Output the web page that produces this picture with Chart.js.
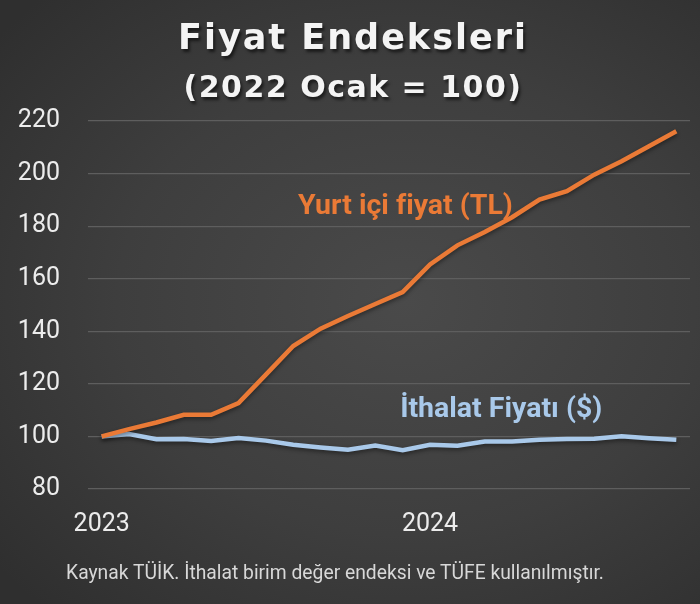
<!DOCTYPE html>
<html lang="tr">
<head>
<meta charset="utf-8">
<title>Fiyat Endeksleri</title>
<script src="https://cdn.jsdelivr.net/npm/chart.js@4.4.1/dist/chart.umd.min.js"></script>
<style>
  html, body { margin: 0; padding: 0; }
  body {
    width: 700px; height: 604px; overflow: hidden; position: relative;
    background: radial-gradient(ellipse 75% 70% at 58% 50%, #4a4a4a 0%, #3e3e3e 55%, #2f2f2f 100%);
    font-family: Roboto, "Liberation Sans", sans-serif;
  }
  #chartBox { position: absolute; left: 0; top: 0; width: 700px; height: 604px; }
  .title {
    position: absolute; left: 0; width: 700px; text-align: center;
    color: #f4f4f4; font-family: "DejaVu Sans", sans-serif; font-weight: bold;
    text-shadow: 2px 3px 3px rgba(0,0,0,0.55);
    padding-left: 6px; box-sizing: border-box;
  }
  #t1 { top: 17px; font-size: 35px; letter-spacing: 2px; }
  #t2 { top: 69px; font-size: 30px; letter-spacing: 1.5px; }
  #source {
    position: absolute; left: 0; width: 700px; top: 561px; text-align: center;
    color: #d8d8d8; font-size: 19.3px; padding-right: 30px; box-sizing: border-box;
  }
</style>
</head>
<body>
<div id="chartBox"><canvas id="chartCanvas"></canvas></div>
<div class="title" id="t1">Fiyat Endeksleri</div>
<div class="title" id="t2">(2022 Ocak = 100)</div>
<div id="source">Kaynak TÜİK. İthalat birim değer endeksi ve TÜFE kullanılmıştır.</div>

<script>
// ------- Data -------
const months = [
  "2023-01","2023-02","2023-03","2023-04","2023-05","2023-06",
  "2023-07","2023-08","2023-09","2023-10","2023-11","2023-12",
  "2024-01","2024-02","2024-03","2024-04","2024-05","2024-06",
  "2024-07","2024-08","2024-09","2024-10"
];
const yearTicks = { "2023-01": "2023", "2024-01": "2024" };

const domesticPrice = [
  100, 102.8, 105.3, 108.2, 108.2, 112.7,
  123.5, 134.4, 141, 145.8, 150.4, 154.9,
  165.4, 172.7, 177.8, 183.4, 190.1, 193.3,
  199.6, 204.7, 210.4, 216.1
];
const importPrice = [
  100, 100.9, 98.9, 99, 98.3, 99.4,
  98.4, 96.8, 95.8, 94.9, 96.5, 94.8,
  96.8, 96.5, 98.1, 98.1, 98.7, 99,
  99.1, 100.1, 99.3, 98.7
];

// label positions (data coords: month index, index value)
const domesticLabel = { text: "Yurt içi fiyat (TL)", x: 11.1, y: 187.5, color: "#ea7a36" };
const importLabel = { text: "İthalat Fiyatı ($)", x: 14.6, y: 110.2, color: "#a9c9ea" };

// ------- Plugins -------
const lineLabels = {
  id: "lineLabels",
  afterDatasetsDraw(chart) {
    const { ctx, scales } = chart;
    ctx.save();
    ctx.font = "bold 28.5px Roboto, sans-serif";
    ctx.textAlign = "center";
    ctx.textBaseline = "middle";
    [domesticLabel, importLabel].forEach((l) => {
      ctx.fillStyle = l.color;
      ctx.fillText(l.text, scales.x.getPixelForValue(l.x), scales.y.getPixelForValue(l.y));
    });
    ctx.restore();
  },
};

const lineShadow = {
  id: "lineShadow",
  beforeDatasetsDraw(chart) {
    const ctx = chart.ctx;
    ctx.save();
    ctx.shadowColor = "rgba(0,0,0,0.45)";
    ctx.shadowBlur = 4;
    ctx.shadowOffsetY = 2;
  },
  afterDatasetsDraw(chart) {
    chart.ctx.restore();
  },
};

// ------- Chart -------
const ctx = document.getElementById("chartCanvas").getContext("2d");
new Chart(ctx, {
  type: "line",
  data: {
    labels: months,
    datasets: [
      {
        label: "Yurt içi fiyat (TL)",
        data: domesticPrice,
        borderColor: "#ea7a36",
        borderWidth: 4.5,
        pointRadius: 0,
        tension: 0,
      },
      {
        label: "İthalat Fiyatı ($)",
        data: importPrice,
        borderColor: "#a9c9ea",
        borderWidth: 4.5,
        pointRadius: 0,
        tension: 0,
      },
    ],
  },
  options: {
    responsive: true,
    maintainAspectRatio: false,
    animation: false,
    layout: { padding: { top: 121, right: 10, bottom: 60, left: 0 } },
    plugins: {
      legend: { display: false },
      title: { display: false },
      tooltip: { enabled: false },
    },
    scales: {
      x: {
        offset: true,
        grid: { display: false, drawTicks: false },
        border: { display: false },
        ticks: {
          autoSkip: false,
          maxRotation: 0,
          padding: 21,
          color: "#ececec",
          font: { family: "Roboto, sans-serif", size: 25 },
          callback: (v, i) => yearTicks[months[i]] || "",
        },
        afterFit: (scale) => { scale.height = 55; },
      },
      y: {
        min: 80,
        max: 220,
        grid: { color: "#5e5e5e", lineWidth: 1.2, drawTicks: false },
        border: { display: false },
        ticks: {
          stepSize: 20,
          padding: 28,
          color: "#ececec",
          font: { family: "Roboto, sans-serif", size: 25 },
        },
        afterFit: (scale) => { scale.width = 88; },
      },
    },
  },
  plugins: [lineShadow, lineLabels],
});
</script>
</body>
</html>
